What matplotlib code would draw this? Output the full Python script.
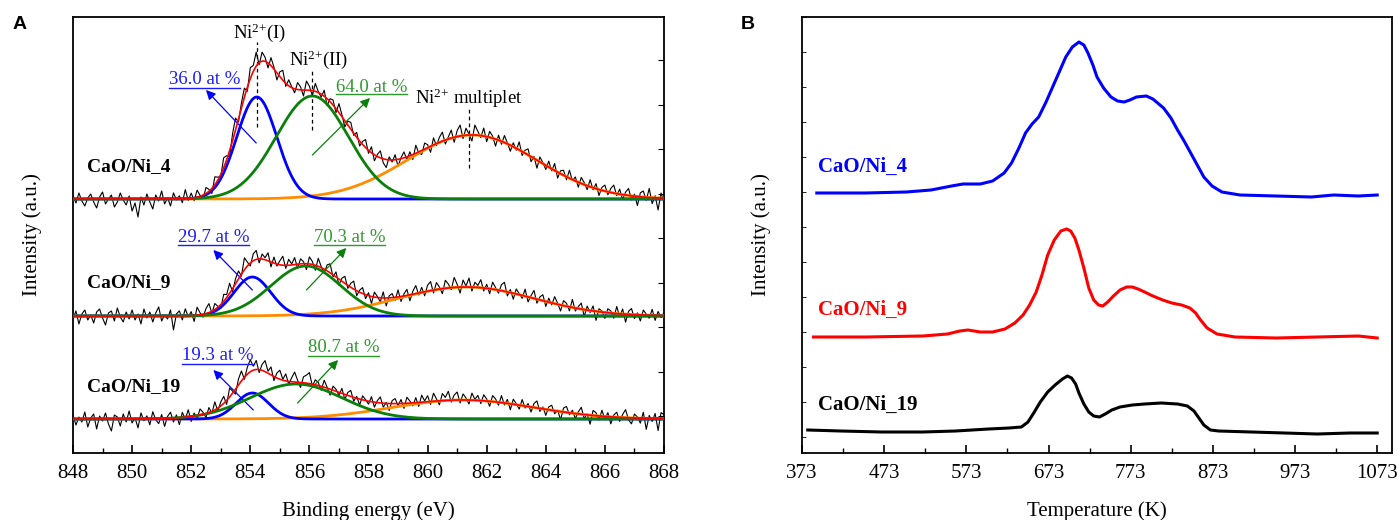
import numpy as np
import matplotlib
matplotlib.use("Agg")
import matplotlib.pyplot as plt
from matplotlib.ticker import MultipleLocator, FixedLocator
from matplotlib.lines import Line2D

plt.rcParams['font.family'] = ['Liberation Serif', 'DejaVu Serif']
plt.rcParams['mathtext.fontset'] = 'custom'
plt.rcParams['mathtext.rm'] = 'Liberation Serif'
plt.rcParams['mathtext.it'] = 'Liberation Serif:italic'

# ---------------- panel A : Ni 2p XPS ----------------
samples = ['CaO/Ni_4', 'CaO/Ni_9', 'CaO/Ni_19']
baselines = [217, 100, -3]
# peak fit components: (centre eV, height, sigma)
peak_I = [(854.22, 102, 0.68), (854.07, 39, 0.62), (854.07, 26, 0.55)]
peak_II = [(856.10, 103, 1.22), (855.88, 50, 1.18), (855.55, 35, 1.55)]
multiplet = [(861.50, 64, 2.20), (861.30, 29, 2.30), (861.20, 19, 2.40)]
pct_I = ['36.0 at %', '29.7 at %', '19.3 at %']
pct_II = ['64.0 at %', '70.3 at %', '80.7 at %']

# residual of the measured spectrum about the fit, 848-868 eV step 0.1
res_4 = [3, -4, 6, -2, -7, 1, 5, -3, -9, 2, 7, -5, 0, 4, -8, -3, 6, -1, -6, 3,
         -12, -4, -18, 2, -6, 5, -3, -10, 4, -2, 8, -5, 1, -7, 6, -1, 3, -4, 9, -2,
         5, -3, 7, 1, -4, 6, 2, -5, 8, 3, -2, 10, 4, -6, 7, 12, -3, 5, 9, -4,
         11, 6, 14, -2, 9, 4, -5, 8, 2, -7, 5, 10, -3, 6, 1, -4, 7, 3, -6, 9,
         4, -5, 8, 1, -3, 6, -7, 3, 5, -4, 9, 2, -6, 4, 7, -2, 5, -5, 3, 8,
         -3, 6, -6, 2, 7, -4, -8, 3, -2, 5, -7, 1, 6, -3, 4, -5, 8, -1, -4, 6,
         3, -6, 7, -2, 5, 9, -4, 2, 8, -5, 6, 11, -3, 7, 1, -6, 10, 4, -2, 8,
         -5, 6, 2, -7, 5, -3, 7, 1, -6, 4, -2, 8, -4, 3, 6, -5, 2, -8, 5, 1,
         -4, 6, -2, 7, -6, 3, 5, -3, 8, -1, 4, -5, 6, 2, -4, 7, -2, 5, -6, 3,
         6, -3, 4, 8, -2, 5, -5, 3, 7, -4, 2, -9, 4, 6, -3, 9, -6, 2, -12, 5,
         -4]
res_9 = [-3, 5, -8, 2, 6, -4, 1, -7, 4, 7, -2, -9, 3, 5, -5, 8, -1, -6, 4, -3,
         6, -4, 2, -8, 7, -2, 4, -6, 3, 9, -5, 1, -3, 6, -14, 2, 5, -4, 7, -1,
         4, -6, 8, 2, -3, 5, 9, -2, 6, 1, -4, 7, 3, 10, -3, 5, 8, -2, 12, 4,
         -3, 7, 9, -4, 5, 2, 8, -5, 6, -2, 4, 9, -3, 6, 1, 7, -4, 5, 2, -6,
         7, 3, -5, 8, 1, -4, 6, 9, -2, 5, -6, 3, 7, -3, 4, 8, -5, 2, 6, -4,
         3, -7, 5, 1, -4, 6, -8, 2, 4, -3, 7, -5, 2, 6, -6, 3, 8, -2, 5, -4,
         6, 9, -3, 7, 2, -5, 8, 4, -2, 10, 3, -6, 7, 1, 9, -4, 5, 2, 8, -3,
         4, -5, 7, 2, -3, 6, 9, -4, 3, -6, 5, 1, -3, 7, -5, 2, 8, -4, 3, 6,
         -5, 4, -2, 7, 1, -6, 5, 3, -4, 8, -3, 2, 6, -7, 4, -2, 5, -9, 3, 1,
         -6, 4, 2, -5, 7, -3, 5, -8, 3, 6, -4, 2, -6, 5, 1, -3, 6, -5, 4, -2,
         3]
res_19 = [4, -6, 2, -3, 7, -8, 1, 5, -10, 3, -2, 6, -5, -12, 4, 2, -7, 5, -3, 8,
          -4, 1, -9, 6, -2, 3, -6, 7, -1, -5, 4, -8, 2, 6, -4, 3, -7, 5, -2, 7,
          -5, 3, -3, 6, 2, -4, 5, -2, 8, -3, 4, 7, -4, 9, 2, -5, 6, 10, -2, 7,
          12, 4, 9, -3, 6, 11, 2, 8, -4, 5, 9, 1, 7, -3, 4, 10, 2, -5, 6, 8,
          11, -2, 5, 3, -4, 7, 1, -6, 4, 2, -3, 5, -5, 3, 6, -4, 2, -6, 4, 1,
          -3, 5, -5, 2, 6, -4, 1, -7, 3, 5, -2, 4, -5, 6, 2, -3, 5, -4, 7, 1,
          6, -3, 8, 2, -4, 7, 3, 9, -2, 5, 8, -3, 6, 2, -4, 7, 1, 5, -3, 6,
          2, -5, 6, 3, -3, 7, -2, 4, -6, 5, 1, -4, 6, -2, 3, -5, 4, 7, -3, 2,
          -6, 3, 5, -3, 1, -8, 4, 6, -2, 3, -5, 2, 7, -4, 1, -9, 5, 3, -4, 6,
          -3, 4, -7, 2, 5, -4, 3, 8, -2, -6, 4, 1, -5, 6, -11, 3, -3, 5, -12, 6,
          4]
residuals = [res_4, res_9, res_19]

# annotation anchors (eV, intensity)
pct_I_xy = [(852.45, 336), (852.75, 179), (852.9, 60)]
arrow_I = [((854.2, 273), (852.5, 326)), ((854.07, 126), (852.75, 166)), ((854.1, 6), (852.75, 46))]
pct_II_xy = [(858.1, 329), (857.35, 179), (857.15, 68)]
arrow_II = [((856.1, 261), (858.05, 318)), ((855.9, 126), (857.25, 168)), ((855.6, 13), (856.97, 56))]
label_y_A = [249, 133, 29]
peak_names = ['Ni$^{2{+}}$(I)', 'Ni$^{2{+}}$(II)', 'Ni$^{2{+}}$ multiplet']
peak_name_xy = [(854.3, 383), (856.3, 356), (861.4, 318)]
peak_dash = [(854.22, 289, 374), (856.1, 286, 346), (861.4, 248, 308)]

# ---------------- panel B : H2-TPR ----------------
T_4 = [391, 450, 500, 530, 555, 569, 590, 605, 619, 628, 637, 645, 653, 661, 670, 678, 686, 694,
       702, 710, 716, 721, 727, 732, 740, 749, 757, 765, 772, 780, 792, 800, 813, 822, 830, 838,
       846, 854, 862, 872, 884, 906, 950, 993, 1020, 1050, 1073]
I_4 = [244, 244, 245, 247, 251, 253, 253, 256, 264, 274, 289, 304, 313, 320, 335, 350, 365, 380,
       390, 395, 392, 384, 372, 360, 349, 340, 336, 335, 337, 340, 341, 338, 329, 319, 307, 296,
       284, 272, 260, 251, 245, 242, 241, 240, 242, 241, 242]
T_9 = [387, 450, 520, 550, 565, 575, 590, 605, 620, 632, 642, 650, 658, 665, 672, 680, 688, 695,
       700, 705, 710, 716, 722, 728, 734, 739, 745, 752, 760, 768, 775, 782, 790, 800, 812, 823,
       835, 845, 852, 858, 866, 878, 900, 950, 1000, 1050, 1073]
I_9 = [100, 100, 101, 103, 106, 107, 105, 105, 108, 114, 122, 132, 145, 162, 182, 197, 206, 208,
       206, 199, 187, 169, 149, 137, 132, 131, 135, 141, 147, 150, 150, 148, 145, 141, 137, 134,
       132, 129, 124, 117, 109, 103, 100, 99, 100, 101, 99]
T_19 = [380, 420, 470, 520, 560, 600, 625, 640, 648, 655, 663, 672, 681, 690, 696, 701, 706, 710,
        716, 722, 728, 735, 742, 750, 760, 775, 790, 810, 830, 842, 850, 856, 862, 870, 880, 920,
        960, 1000, 1040, 1073]
I_19 = [7, 6, 5, 5, 6, 8, 9, 10, 15, 24, 35, 45, 52, 58, 61, 59, 53, 44,
        33, 25, 21, 20, 23, 27, 30, 32, 33, 34, 33, 31, 26, 19, 12, 7, 6, 5,
        4, 3, 4, 4]
tpr_T = [T_4, T_9, T_19]
tpr_I = [I_4, I_9, I_19]
tpr_colors = ['#0000ff', '#ff0000', '#000000']
label_y_B = [270, 127, 32]

# ---------------- figure ----------------
fig = plt.figure(figsize=(13.98, 5.2), dpi=100)
axA = fig.add_axes([73 / 1398, 67 / 520, 591 / 1398, 436 / 520])
axB = fig.add_axes([802 / 1398, 67 / 520, 590 / 1398, 436 / 520])

blue, green, orange, red = '#0000ff', '#0a800a', '#ff8c00', '#ff0000'
txt_blue, txt_green = '#1a1aff', '#2b9a2b'


def gauss(x, p):
    c, h, s = p
    return h * np.exp(-0.5 * ((x - c) / s) ** 2)


E = np.linspace(848, 868, 201)
Ef = np.linspace(848, 868, 801)
underlined = []
for i in range(3):
    b = baselines[i]
    g1 = gauss(Ef, peak_I[i])
    g2 = gauss(Ef, peak_II[i])
    g3 = gauss(Ef, multiplet[i])
    meas = b + gauss(E, peak_I[i]) + gauss(E, peak_II[i]) + gauss(E, multiplet[i]) + np.array(residuals[i])
    axA.plot(E, meas, color='black', lw=0.8, zorder=2)
    axA.plot(Ef, b + g3, color=orange, lw=2.0, zorder=3)
    axA.plot(Ef, b + g1, color=blue, lw=2.0, zorder=4)
    axA.plot(Ef, b + g2, color=green, lw=2.0, zorder=4)
    axA.plot(Ef, b + g1 + g2 + g3, color=red, lw=1.2, zorder=5)

    axA.text(848.47, label_y_A[i], samples[i], fontsize=14, fontweight='bold', ha='left', va='center')
    t1 = axA.text(*pct_I_xy[i], pct_I[i], color=txt_blue, fontsize=13.5, ha='center', va='center')
    t2 = axA.text(*pct_II_xy[i], pct_II[i], color=txt_green, fontsize=13.5, ha='center', va='center')
    underlined += [t1, t2]
    axA.annotate('', xy=arrow_I[i][1], xytext=arrow_I[i][0],
                 arrowprops=dict(arrowstyle='-|>', color=blue, lw=0.9, mutation_scale=14, shrinkA=0, shrinkB=0))
    axA.annotate('', xy=arrow_II[i][1], xytext=arrow_II[i][0],
                 arrowprops=dict(arrowstyle='-|>', color=green, lw=0.9, mutation_scale=14, shrinkA=0, shrinkB=0))

for name, xy, d in zip(peak_names, peak_name_xy, peak_dash):
    axA.text(*xy, name, fontsize=13.5, ha='center', va='center')
    axA.vlines(d[0], d[1], d[2], colors='black', linestyles=(0, (3, 2.5)), lw=0.9)

axA.set_xlim(848, 868)
axA.set_ylim(-37, 399)
axA.xaxis.set_major_locator(MultipleLocator(2))
axA.xaxis.set_minor_locator(MultipleLocator(1))
axA.yaxis.set_major_locator(MultipleLocator(44.5))
axA.tick_params(axis='y', which='both', left=False, right=True, labelleft=False, direction='in', length=4)
axA.set_xlabel('Binding energy (eV)', fontsize=15, labelpad=13)
axA.set_ylabel('Intensity (a.u.)', fontsize=15, labelpad=22)

for T, I, c, ly, s in zip(tpr_T, tpr_I, tpr_colors, label_y_B, samples):
    axB.plot(T, I, color=c, lw=2.2)
    axB.text(392.5, ly, s, color=c, fontsize=15, fontweight='bold', ha='left', va='center')
axB.set_xlim(373, 1091)
axB.set_ylim(-16, 420)
axB.xaxis.set_major_locator(FixedLocator([373, 473, 573, 673, 773, 873, 973, 1073]))
axB.xaxis.set_minor_locator(FixedLocator([423, 523, 623, 723, 823, 923, 1023]))
axB.yaxis.set_major_locator(MultipleLocator(35))
axB.tick_params(axis='y', which='both', left=True, labelleft=False, direction='in', length=3, width=0.6)
axB.set_xlabel('Temperature (K)', fontsize=15, labelpad=13)
axB.set_ylabel('Intensity (a.u.)', fontsize=15, labelpad=22)

for ax in (axA, axB):
    ax.tick_params(axis='x', which='major', direction='in', length=6, width=1.2, labelsize=15, pad=8)
    ax.tick_params(axis='x', which='minor', direction='in', length=3.5, width=1.0)
    for sp in ax.spines.values():
        sp.set_linewidth(1.3)

fig.text(20 / 1398, 1 - 24 / 520, 'A', fontsize=14, fontweight='bold', family='Liberation Sans', ha='center', va='center')
fig.text(748 / 1398, 1 - 24 / 520, 'B', fontsize=14, fontweight='bold', family='Liberation Sans', ha='center', va='center')

# underline the percentage labels
fig.canvas.draw()
inv = fig.transFigure.inverted()
for t in underlined:
    bb = t.get_window_extent()
    (x0, y0), (x1, _) = inv.transform([(bb.x0, bb.y0 + 1), (bb.x1, bb.y0 + 1)])
    fig.add_artist(Line2D([x0, x1], [y0, y0], color=t.get_color(), lw=1.0))

fig.savefig('out.png', dpi=100)
